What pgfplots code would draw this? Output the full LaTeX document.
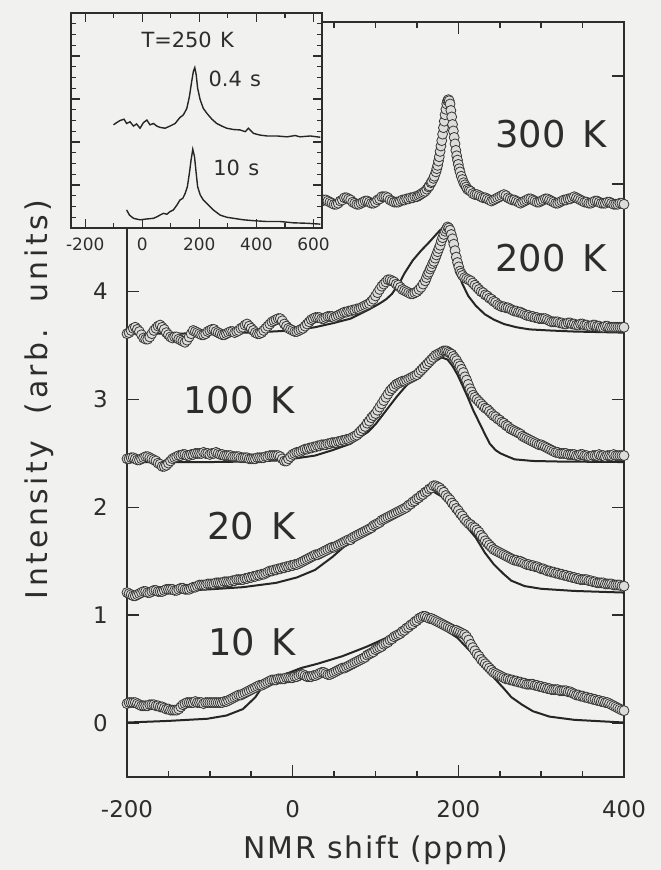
\documentclass[border=0pt]{standalone}
\usepackage{fontspec}
\setmainfont{DejaVu Sans}
\newfontfamily\titlefont{DejaVu Sans}[LetterSpace=6]
\newfontfamily\ylabfont{DejaVu Sans}[LetterSpace=12]
\usepackage{pgfplots}
\pgfplotsset{compat=1.18}
\definecolor{bg}{RGB}{241,241,239}
\definecolor{ink}{RGB}{45,45,45}
\definecolor{mk}{RGB}{220,220,216}
\definecolor{mkedge}{RGB}{55,55,55}

\pgfplotsset{
  data/.style={only marks, mark=*, mark size=5pt,
    mark options={fill=mk, draw=mkedge, line width=0.8bp}},
  fit/.style={no marks, line width=2bp, color=black!85},
}

\begin{document}
\begin{tikzpicture}
\fill[bg] (0,0) rectangle (661bp,870bp);
\useasboundingbox (0,0) rectangle (661bp,870bp);

% ---------------- main panel ----------------
\begin{axis}[
  at={(127bp,93bp)}, anchor=south west,
  scale only axis, width=497bp, height=755bp,
  xmin=-200, xmax=400, ymin=-0.5, ymax=6.5,
  xtick={-200,0,200,400}, xticklabels={-200,0,200,400},
  minor x tick num=3,
  ytick={0,1,2,3,4,5,6}, yticklabels={0,1,2,3,4,5,6},
  tick align=inside,
  major tick length=12bp, minor tick length=6bp,
  axis line style={ink, line width=2bp},
  every tick/.style={ink, line width=1.6bp},
  tick label style={font=\fontsize{23}{26}\selectfont, text=ink},
  xticklabel style={anchor=base, inner sep=0pt, yshift=-40bp},
  yticklabel style={anchor=east, inner sep=0pt, xshift=-19bp},
  xlabel={NMR shift (ppm)},
  ylabel={Intensity\ \ (arb.\ \ units)},
  every axis x label/.style={at={(axis description cs:0.5,0)}, anchor=base,
    yshift=-81bp, font=\titlefont\fontsize{30}{34}\selectfont, text=ink},
  every axis y label/.style={at={(axis description cs:0,0.5)}, xshift=-80bp,
    rotate=90, anchor=base, font=\ylabfont\fontsize{30}{34}\selectfont, text=ink},
]
% 300 K
\addplot[data] coordinates {
(-200,4.83)(-190,4.84)(-180,4.83)(-170,4.82)(-160,4.85)(-150,4.81)(-140,4.84)(-130,4.81)
(-120,4.84)(-110,4.83)(-100,4.83)(-90,4.82)(-80,4.84)(-70,4.83)(-60,4.82)(-50,4.84)
(-40,4.83)(-30,4.82)(-20,4.84)(-10,4.83)(0,4.82)(10,4.84)(20,4.83)(25,4.82)
(30,4.82)(32.5,4.83)(35,4.84)(37.5,4.85)(40,4.85)(42.5,4.84)(45,4.83)(47.5,4.82)
(50,4.81)(52.5,4.81)(55,4.82)(57.5,4.84)(60,4.85)(62.5,4.87)(65,4.87)(67.5,4.86)
(70,4.85)(72.5,4.83)(75,4.82)(77.5,4.81)(80,4.81)(82.5,4.82)(85,4.83)(87.5,4.84)
(90,4.84)(92.5,4.83)(95,4.82)(97.5,4.82)(100,4.83)(102.5,4.85)(105,4.86)(107.5,4.88)
(110,4.88)(112.5,4.88)(115,4.87)(117.5,4.85)(120,4.84)(122.5,4.83)(125,4.83)(127.5,4.83)
(130,4.84)(132.5,4.85)(135,4.85)(137.5,4.86)(140,4.86)(142.5,4.87)(145,4.87)(147.5,4.88)
(150,4.88)(152,4.89)(154,4.90)(156,4.91)(158,4.92)(160,4.93)(162,4.95)(164,4.97)
(165,4.98)(167,5.01)(168,5.02)(170,5.05)(171,5.07)(173,5.11)(174,5.14)(175,5.17)
(176,5.21)(177,5.25)(178,5.30)(179,5.35)(180,5.40)(181,5.46)(182,5.52)(183,5.58)
(184,5.64)(185,5.69)(186,5.74)(187,5.77)(188,5.78)(189,5.77)(190,5.74)(191,5.68)
(192,5.62)(193,5.55)(194,5.49)(195,5.43)(196,5.37)(197,5.31)(198,5.26)(199,5.22)
(200,5.18)(201,5.14)(202,5.11)(203.5,5.07)(205,5.04)(206.5,5.01)(208,4.99)(209.5,4.97)
(211,4.95)(213,4.94)(215,4.93)(217.5,4.91)(220,4.90)(222.5,4.90)(225,4.89)(227.5,4.88)
(230,4.87)(232.5,4.87)(235,4.86)(237.5,4.85)(240,4.84)(242.5,4.85)(245,4.86)(247.5,4.87)
(250,4.88)(252.5,4.89)(255,4.90)(257.5,4.89)(260,4.87)(262.5,4.86)(265,4.85)(267.5,4.85)
(270,4.84)(272.5,4.83)(275,4.82)(277.5,4.83)(280,4.84)(282.5,4.85)(285,4.86)(287.5,4.86)
(290,4.85)(292.5,4.84)(295,4.83)(297.5,4.83)(300,4.84)(302.5,4.85)(305,4.86)(307.5,4.86)
(310,4.85)(312.5,4.84)(315,4.83)(317.5,4.82)(320,4.82)(322.5,4.83)(325,4.84)(327.5,4.85)
(330,4.85)(332.5,4.86)(335,4.86)(337.5,4.87)(340,4.88)(342.5,4.87)(345,4.86)(347.5,4.85)
(350,4.84)(352.5,4.83)(355,4.83)(357.5,4.82)(360,4.82)(362.5,4.83)(365,4.84)(367.5,4.84)
(370,4.83)(372.5,4.82)(375,4.82)(377.5,4.82)(380,4.83)(382.5,4.83)(385,4.82)(387.5,4.81)
(390,4.81)(392.5,4.81)(395,4.82)(397.5,4.82)(400,4.81)};
% 200 K
\addplot[data] coordinates {
(-200,3.61)(-197.5,3.62)(-195,3.64)(-192.5,3.66)(-190,3.67)(-187.5,3.65)(-185,3.63)(-182.5,3.60)
(-180,3.57)(-177.5,3.56)(-175,3.56)(-172.5,3.58)(-170,3.61)(-167.5,3.64)(-165,3.66)(-162.5,3.68)
(-160,3.69)(-157.5,3.67)(-155,3.65)(-152.5,3.62)(-150,3.60)(-147.5,3.58)(-145,3.57)(-142.5,3.58)
(-140,3.58)(-137.5,3.56)(-135,3.55)(-132.5,3.54)(-130,3.53)(-127.5,3.55)(-125,3.58)(-122.5,3.61)
(-120,3.64)(-117.5,3.63)(-115,3.62)(-112.5,3.61)(-110,3.60)(-107.5,3.60)(-105,3.61)(-102.5,3.63)
(-100,3.64)(-97.5,3.65)(-95,3.65)(-92.5,3.63)(-90,3.62)(-87.5,3.61)(-85,3.60)(-82.5,3.60)
(-80,3.61)(-77.5,3.62)(-75,3.63)(-72.5,3.63)(-70,3.62)(-67.5,3.63)(-65,3.64)(-62.5,3.66)
(-60,3.67)(-57.5,3.69)(-55,3.70)(-52.5,3.68)(-50,3.66)(-47.5,3.64)(-45,3.62)(-42.5,3.61)
(-40,3.61)(-37.5,3.62)(-35,3.64)(-32.5,3.66)(-30,3.68)(-27.5,3.70)(-25,3.72)(-22.5,3.73)
(-20,3.74)(-17.5,3.75)(-15,3.75)(-12.5,3.73)(-10,3.70)(-7.5,3.68)(-5,3.66)(-2.5,3.65)
(0,3.64)(2.5,3.63)(5,3.63)(7.5,3.64)(10,3.65)(12.5,3.66)(15,3.68)(17.5,3.70)
(20,3.72)(22.5,3.74)(25,3.75)(27.5,3.76)(30,3.76)(32.5,3.76)(35,3.75)(37.5,3.75)
(40,3.76)(42.5,3.77)(45,3.77)(47.5,3.77)(50,3.76)(52.5,3.77)(55,3.78)(57.5,3.79)
(60,3.80)(62.5,3.81)(65,3.81)(67.5,3.82)(70,3.82)(72.5,3.83)(75,3.83)(77.5,3.84)
(80,3.84)(82.5,3.85)(85,3.86)(87.5,3.87)(90,3.88)(92.5,3.89)(95,3.91)(97.5,3.93)
(100,3.96)(102.5,3.99)(105,4.02)(107.5,4.05)(110,4.07)(112.5,4.09)(115,4.11)(117.5,4.11)
(120,4.10)(122.5,4.09)(125,4.07)(127.5,4.06)(130,4.04)(132.5,4.02)(135,4.01)(137.5,4.00)
(140,3.99)(142.5,3.98)(145,3.98)(147.5,3.99)(150,4.00)(152.5,4.02)(155,4.04)(157.5,4.07)
(160,4.10)(161.5,4.13)(163,4.16)(164.5,4.18)(166,4.21)(167.5,4.23)(169,4.26)(170.5,4.28)
(172,4.31)(173.5,4.34)(175,4.37)(176.5,4.40)(178,4.43)(179.5,4.47)(181,4.50)(182.5,4.53)
(184,4.56)(185.5,4.58)(187,4.60)(188.5,4.59)(190,4.57)(191.5,4.53)(193,4.49)(194.5,4.44)
(196,4.38)(197.5,4.32)(199,4.27)(200.5,4.23)(202,4.19)(203.5,4.17)(205,4.15)(207.5,4.13)
(210,4.12)(212.5,4.11)(215,4.10)(217.5,4.08)(220,4.06)(222.5,4.04)(225,4.02)(227.5,4.00)
(230,3.99)(232.5,3.97)(235,3.96)(237.5,3.94)(240,3.93)(242.5,3.91)(245,3.90)(247.5,3.88)
(250,3.87)(252.5,3.86)(255,3.86)(257.5,3.85)(260,3.85)(262.5,3.84)(265,3.83)(267.5,3.82)
(270,3.82)(272.5,3.81)(275,3.81)(277.5,3.80)(280,3.79)(282.5,3.78)(285,3.78)(287.5,3.77)
(290,3.77)(292.5,3.76)(295,3.76)(297.5,3.75)(300,3.75)(302.5,3.75)(305,3.75)(307.5,3.74)
(310,3.73)(312.5,3.72)(315,3.72)(317.5,3.72)(320,3.72)(322.5,3.71)(325,3.71)(327.5,3.70)
(330,3.70)(332.5,3.71)(335,3.71)(337.5,3.70)(340,3.70)(342.5,3.69)(345,3.69)(347.5,3.70)
(350,3.70)(352.5,3.69)(355,3.69)(357.5,3.68)(360,3.68)(362.5,3.69)(365,3.69)(367.5,3.68)
(370,3.68)(372.5,3.67)(375,3.67)(377.5,3.68)(380,3.68)(382.5,3.67)(385,3.67)(387.5,3.67)
(390,3.67)(392.5,3.67)(395,3.67)(397.5,3.67)(400,3.67)};
\addplot[fit] coordinates {
(-200,3.61)(-150,3.61)(-100,3.615)(-50,3.62)(0,3.64)(27,3.67)(50,3.71)(70,3.75)
(91,3.83)(105,3.89)(113,3.93)(120,3.98)(126,4.05)(131,4.11)(135,4.17)(140,4.23)
(145,4.29)(155,4.38)(165,4.46)(172,4.52)(178,4.57)(182,4.59)(186,4.55)(190,4.45)
(195,4.31)(199,4.19)(205,4.07)(212,3.96)(221,3.87)(232,3.79)(243,3.74)(255,3.70)
(270,3.67)(286,3.65)(310,3.64)(340,3.63)(370,3.625)(400,3.62)};
% 100 K
\addplot[data] coordinates {
(-200,2.45)(-197.5,2.45)(-195,2.46)(-192.5,2.46)(-190,2.45)(-187.5,2.44)(-185,2.44)(-182.5,2.45)
(-180,2.46)(-177.5,2.47)(-175,2.47)(-172.5,2.46)(-170,2.45)(-167.5,2.44)(-165,2.43)(-162.5,2.41)
(-160,2.40)(-157.5,2.38)(-155,2.38)(-152.5,2.39)(-150,2.41)(-147.5,2.43)(-145,2.45)(-142.5,2.46)
(-140,2.47)(-137.5,2.48)(-135,2.48)(-132.5,2.49)(-130,2.49)(-127.5,2.48)(-125,2.48)(-122.5,2.49)
(-120,2.49)(-117.5,2.50)(-115,2.50)(-112.5,2.50)(-110,2.50)(-107.5,2.51)(-105,2.50)(-102.5,2.50)
(-100,2.49)(-97.5,2.50)(-95,2.50)(-92.5,2.51)(-90,2.50)(-87.5,2.49)(-85,2.49)(-82.5,2.48)
(-80,2.48)(-77.5,2.48)(-75,2.48)(-72.5,2.47)(-70,2.47)(-67.5,2.47)(-65,2.47)(-62.5,2.46)
(-60,2.46)(-57.5,2.46)(-55,2.46)(-52.5,2.45)(-50,2.45)(-47.5,2.45)(-45,2.45)(-42.5,2.46)
(-40,2.46)(-37.5,2.46)(-35,2.46)(-32.5,2.47)(-30,2.47)(-27.5,2.48)(-25,2.48)(-22.5,2.48)
(-20,2.48)(-17.5,2.48)(-15,2.47)(-12.5,2.45)(-10,2.43)(-7.5,2.43)(-5,2.45)(-2.5,2.47)
(0,2.49)(2.5,2.50)(5,2.51)(7.5,2.51)(10,2.52)(12.5,2.53)(15,2.54)(17.5,2.54)
(20,2.55)(22.5,2.55)(25,2.56)(27.5,2.56)(30,2.57)(32.5,2.57)(35,2.58)(37.5,2.58)
(40,2.58)(42.5,2.59)(45,2.59)(47.5,2.60)(50,2.60)(52.5,2.60)(55,2.61)(57.5,2.61)
(60,2.62)(62.5,2.62)(65,2.63)(67.5,2.63)(70,2.64)(72.5,2.65)(75,2.66)(77.5,2.67)
(80,2.69)(82.5,2.71)(85,2.73)(87.5,2.75)(90,2.78)(92.5,2.80)(95,2.83)(97.5,2.85)
(100,2.87)(102.5,2.90)(105,2.93)(107.5,2.96)(110,2.99)(112.5,3.02)(115,3.05)(117.5,3.08)
(120,3.10)(122.5,3.12)(125,3.14)(127.5,3.15)(130,3.16)(132.5,3.17)(135,3.17)(137.5,3.18)
(140,3.19)(142.5,3.20)(145,3.21)(147.5,3.22)(150,3.23)(152.5,3.25)(155,3.27)(157.5,3.29)
(160,3.31)(162.5,3.33)(165,3.35)(167.5,3.37)(170,3.39)(172.5,3.41)(175,3.42)(177.5,3.43)
(180,3.44)(182,3.45)(184,3.45)(186,3.45)(188,3.44)(190,3.43)(192,3.42)(194,3.40)
(196,3.38)(198,3.36)(200,3.33)(202,3.31)(204,3.28)(206,3.25)(208,3.21)(210,3.18)
(212,3.14)(214,3.10)(216,3.07)(218,3.04)(220,3.02)(222.5,3.00)(225,2.98)(227.5,2.96)
(230,2.94)(232.5,2.92)(235,2.91)(237.5,2.89)(240,2.87)(242.5,2.85)(245,2.84)(247.5,2.82)
(250,2.81)(252.5,2.79)(255,2.78)(257.5,2.76)(260,2.75)(262.5,2.73)(265,2.72)(267.5,2.71)
(270,2.70)(272.5,2.69)(275,2.68)(277.5,2.66)(280,2.65)(282.5,2.64)(285,2.63)(287.5,2.62)
(290,2.61)(292.5,2.60)(295,2.59)(297.5,2.58)(300,2.58)(302.5,2.57)(305,2.56)(307.5,2.55)
(310,2.54)(312.5,2.53)(315,2.52)(317.5,2.51)(320,2.51)(322.5,2.50)(325,2.50)(327.5,2.50)
(330,2.50)(332.5,2.49)(335,2.49)(337.5,2.49)(340,2.49)(342.5,2.48)(345,2.48)(347.5,2.49)
(350,2.49)(352.5,2.48)(355,2.48)(357.5,2.47)(360,2.47)(362.5,2.48)(365,2.48)(367.5,2.48)
(370,2.49)(372.5,2.48)(375,2.48)(377.5,2.47)(380,2.48)(382.5,2.48)(385,2.48)(387.5,2.49)
(390,2.48)(392.5,2.48)(395,2.48)(397.5,2.48)(400,2.48)};
\addplot[fit] coordinates {
(-200,2.42)(-100,2.42)(-50,2.425)(-17,2.435)(0,2.45)(27,2.48)(48,2.53)(70,2.59)
(91,2.70)(100,2.77)(113,2.90)(125,3.02)(135,3.11)(145,3.19)(156,3.26)(169,3.34)
(180,3.39)(187,3.37)(193,3.31)(199,3.23)(205,3.13)(212,3.01)(218,2.90)(225,2.79)
(232,2.68)(238,2.59)(245,2.53)(251,2.50)(260,2.47)(268,2.445)(290,2.43)(320,2.425)
(400,2.42)};
% 20 K
\addplot[data] coordinates {
(-200,1.21)(-197.5,1.20)(-195,1.19)(-192.5,1.18)(-190,1.18)(-187.5,1.19)(-185,1.20)(-182.5,1.21)
(-180,1.22)(-177.5,1.22)(-175,1.21)(-172.5,1.21)(-170,1.22)(-167.5,1.23)(-165,1.23)(-162.5,1.22)
(-160,1.22)(-157.5,1.22)(-155,1.23)(-152.5,1.24)(-150,1.24)(-147.5,1.24)(-145,1.24)(-142.5,1.23)
(-140,1.23)(-137.5,1.24)(-135,1.25)(-132.5,1.25)(-130,1.24)(-127.5,1.24)(-125,1.24)(-122.5,1.25)
(-120,1.26)(-117.5,1.26)(-115,1.27)(-112.5,1.28)(-110,1.28)(-107.5,1.28)(-105,1.28)(-102.5,1.29)
(-100,1.29)(-97.5,1.29)(-95,1.29)(-92.5,1.30)(-90,1.30)(-87.5,1.30)(-85,1.30)(-82.5,1.31)
(-80,1.31)(-77.5,1.31)(-75,1.31)(-72.5,1.32)(-70,1.32)(-67.5,1.33)(-65,1.33)(-62.5,1.33)
(-60,1.33)(-57.5,1.34)(-55,1.34)(-52.5,1.35)(-50,1.35)(-47.5,1.36)(-45,1.36)(-42.5,1.37)
(-40,1.37)(-37.5,1.38)(-35,1.38)(-32.5,1.39)(-30,1.40)(-27.5,1.41)(-25,1.41)(-22.5,1.42)
(-20,1.42)(-17.5,1.43)(-15,1.43)(-12.5,1.44)(-10,1.44)(-7.5,1.45)(-5,1.45)(-2.5,1.46)
(0,1.46)(2.5,1.47)(5,1.47)(7.5,1.48)(10,1.49)(12.5,1.50)(15,1.51)(17.5,1.52)
(20,1.53)(22.5,1.54)(25,1.55)(27.5,1.56)(30,1.56)(32.5,1.57)(35,1.58)(37.5,1.59)
(40,1.60)(42.5,1.61)(45,1.62)(47.5,1.63)(50,1.63)(52.5,1.64)(55,1.65)(57.5,1.66)
(60,1.67)(62.5,1.68)(65,1.69)(67.5,1.70)(70,1.70)(72.5,1.72)(75,1.73)(77.5,1.74)
(80,1.75)(82.5,1.76)(85,1.77)(87.5,1.78)(90,1.79)(92.5,1.80)(95,1.81)(97.5,1.83)
(100,1.84)(102.5,1.85)(105,1.86)(107.5,1.88)(110,1.89)(112.5,1.90)(115,1.91)(117.5,1.92)
(120,1.93)(122.5,1.94)(125,1.95)(127.5,1.96)(130,1.97)(132.5,1.98)(135,1.99)(137.5,2.00)
(140,2.02)(142.5,2.03)(145,2.05)(147.5,2.06)(150,2.08)(152.5,2.09)(155,2.11)(157.5,2.12)
(160,2.14)(162.5,2.15)(165,2.17)(167.5,2.18)(170,2.20)(172.5,2.20)(175,2.19)(177.5,2.18)
(180,2.16)(182.5,2.14)(185,2.11)(187.5,2.09)(190,2.07)(192.5,2.04)(195,2.02)(197.5,1.99)
(200,1.97)(202.5,1.94)(205,1.92)(207.5,1.89)(210,1.87)(212.5,1.85)(215,1.84)(217.5,1.82)
(220,1.81)(222.5,1.79)(225,1.77)(227.5,1.74)(230,1.72)(232.5,1.69)(235,1.67)(237.5,1.65)
(240,1.63)(242.5,1.61)(245,1.60)(247.5,1.59)(250,1.58)(252.5,1.57)(255,1.56)(257.5,1.55)
(260,1.54)(262.5,1.53)(265,1.52)(267.5,1.51)(270,1.51)(272.5,1.50)(275,1.50)(277.5,1.49)
(280,1.48)(282.5,1.47)(285,1.47)(287.5,1.46)(290,1.46)(292.5,1.45)(295,1.45)(297.5,1.44)
(300,1.43)(302.5,1.43)(305,1.42)(307.5,1.41)(310,1.41)(312.5,1.40)(315,1.40)(317.5,1.39)
(320,1.39)(322.5,1.38)(325,1.38)(327.5,1.37)(330,1.37)(332.5,1.36)(335,1.36)(337.5,1.35)
(340,1.35)(342.5,1.34)(345,1.34)(347.5,1.33)(350,1.33)(352.5,1.33)(355,1.33)(357.5,1.32)
(360,1.32)(362.5,1.31)(365,1.31)(367.5,1.30)(370,1.30)(372.5,1.30)(375,1.30)(377.5,1.29)
(380,1.29)(382.5,1.29)(385,1.29)(387.5,1.28)(390,1.28)(392.5,1.28)(395,1.28)(397.5,1.27)
(400,1.27)};
\addplot[fit] coordinates {
(-200,1.21)(-150,1.22)(-100,1.24)(-60,1.26)(-20,1.30)(5,1.35)(27,1.42)(48,1.54)
(70,1.69)(91,1.80)(113,1.88)(135,1.98)(150,2.06)(169,2.15)(180,2.10)(190,2.02)
(199,1.92)(210,1.82)(221,1.72)(232,1.58)(243,1.47)(255,1.38)(264,1.32)(280,1.27)
(300,1.245)(340,1.225)(400,1.21)};
% 10 K
\addplot[data] coordinates {
(-200,0.18)(-197.5,0.19)(-195,0.19)(-192.5,0.19)(-190,0.19)(-187.5,0.18)(-185,0.17)(-182.5,0.16)
(-180,0.16)(-177.5,0.16)(-175,0.16)(-172.5,0.17)(-170,0.17)(-167.5,0.17)(-165,0.16)(-162.5,0.16)
(-160,0.15)(-157.5,0.15)(-155,0.14)(-152.5,0.13)(-150,0.13)(-147.5,0.12)(-145,0.12)(-142.5,0.12)
(-140,0.12)(-137.5,0.13)(-135,0.15)(-132.5,0.17)(-130,0.18)(-127.5,0.19)(-125,0.19)(-122.5,0.19)
(-120,0.19)(-117.5,0.20)(-115,0.19)(-112.5,0.19)(-110,0.19)(-107.5,0.18)(-105,0.19)(-102.5,0.19)
(-100,0.19)(-97.5,0.19)(-95,0.19)(-92.5,0.19)(-90,0.19)(-87.5,0.19)(-85,0.19)(-82.5,0.20)
(-80,0.20)(-77.5,0.21)(-75,0.22)(-72.5,0.23)(-70,0.24)(-67.5,0.25)(-65,0.26)(-62.5,0.26)
(-60,0.27)(-57.5,0.28)(-55,0.29)(-52.5,0.30)(-50,0.31)(-47.5,0.32)(-45,0.33)(-42.5,0.34)
(-40,0.35)(-37.5,0.35)(-35,0.36)(-32.5,0.37)(-30,0.38)(-27.5,0.39)(-25,0.40)(-22.5,0.40)
(-20,0.40)(-17.5,0.41)(-15,0.41)(-12.5,0.41)(-10,0.41)(-7.5,0.42)(-5,0.42)(-2.5,0.42)
(0,0.42)(2.5,0.43)(5,0.43)(7.5,0.44)(10,0.45)(12.5,0.45)(15,0.44)(17.5,0.43)
(20,0.43)(22.5,0.43)(25,0.44)(27.5,0.44)(30,0.45)(32.5,0.46)(35,0.47)(37.5,0.47)
(40,0.46)(42.5,0.45)(45,0.45)(47.5,0.46)(50,0.47)(52.5,0.48)(55,0.49)(57.5,0.50)
(60,0.51)(62.5,0.51)(65,0.52)(67.5,0.53)(70,0.54)(72.5,0.55)(75,0.56)(77.5,0.57)
(80,0.58)(82.5,0.59)(85,0.60)(87.5,0.61)(90,0.63)(92.5,0.64)(95,0.65)(97.5,0.66)
(100,0.68)(102.5,0.69)(105,0.70)(107.5,0.71)(110,0.73)(112.5,0.74)(115,0.75)(117.5,0.77)
(120,0.78)(122.5,0.80)(125,0.81)(127.5,0.82)(130,0.83)(132.5,0.85)(135,0.86)(137.5,0.88)
(140,0.89)(142.5,0.91)(145,0.92)(147.5,0.94)(150,0.95)(152.5,0.97)(155,0.98)(157.5,0.99)
(160,0.99)(162.5,0.98)(165,0.97)(167.5,0.97)(170,0.96)(172.5,0.95)(175,0.94)(177.5,0.93)
(180,0.92)(182.5,0.91)(185,0.90)(187.5,0.89)(190,0.88)(192.5,0.87)(195,0.86)(197.5,0.86)
(200,0.85)(202.5,0.84)(205,0.83)(207.5,0.82)(210,0.80)(212.5,0.77)(215,0.73)(217.5,0.70)
(220,0.67)(222.5,0.64)(225,0.62)(227.5,0.59)(230,0.57)(232.5,0.55)(235,0.53)(237.5,0.51)
(240,0.49)(242.5,0.47)(245,0.46)(247.5,0.45)(250,0.44)(252.5,0.43)(255,0.42)(257.5,0.41)
(260,0.41)(262.5,0.40)(265,0.40)(267.5,0.39)(270,0.39)(272.5,0.38)(275,0.38)(277.5,0.37)
(280,0.37)(282.5,0.36)(285,0.36)(287.5,0.36)(290,0.36)(292.5,0.35)(295,0.35)(297.5,0.34)
(300,0.34)(302.5,0.33)(305,0.33)(307.5,0.32)(310,0.32)(312.5,0.31)(315,0.31)(317.5,0.31)
(320,0.31)(322.5,0.30)(325,0.30)(327.5,0.30)(330,0.30)(332.5,0.29)(335,0.29)(337.5,0.28)
(340,0.27)(342.5,0.26)(345,0.26)(347.5,0.25)(350,0.25)(352.5,0.24)(355,0.24)(357.5,0.23)
(360,0.23)(362.5,0.22)(365,0.22)(367.5,0.21)(370,0.21)(372.5,0.20)(375,0.20)(377.5,0.19)
(380,0.19)(382.5,0.18)(385,0.17)(387.5,0.16)(390,0.15)(392.5,0.14)(395,0.13)(397.5,0.12)
(400,0.115)};
\addplot[fit] coordinates {
(-200,0.005)(-150,0.02)(-103,0.04)(-80,0.07)(-60,0.13)(-45,0.24)(-38,0.32)(-25,0.39)
(-10,0.45)(10,0.51)(30,0.55)(60,0.62)(90,0.71)(113,0.79)(135,0.87)(158,0.975)
(175,0.91)(199,0.79)(220,0.62)(243,0.42)(255,0.32)(264,0.24)(277,0.17)(290,0.11)
(310,0.06)(340,0.03)(400,0.005)};

\node[anchor=base east, text=ink, font=\fontsize{37}{40}\selectfont] at (axis cs:383,5.335) {300\hspace{0.45em}K};
\node[anchor=base east, text=ink, font=\fontsize{37}{40}\selectfont] at (axis cs:383,4.19) {200\hspace{0.45em}K};
\node[anchor=base west, text=ink, font=\fontsize{37}{40}\selectfont] at (axis cs:-136,2.873) {100\hspace{0.45em}K};
\node[anchor=base west, text=ink, font=\fontsize{37}{40}\selectfont] at (axis cs:-107,1.704) {20\hspace{0.45em}K};
\node[anchor=base west, text=ink, font=\fontsize{37}{40}\selectfont] at (axis cs:-106,0.628) {10\hspace{0.45em}K};
\end{axis}

% ---------------- inset ----------------
\begin{axis}[
  at={(71bp,642bp)}, anchor=south west,
  scale only axis, width=251bp, height=215bp,
  xmin=-250, xmax=630, ymin=0, ymax=5,
  axis background/.style={fill=bg},
  xtick={-200,0,200,400,600}, xticklabels={-200,0,200,400,600},
  minor x tick num=1,
  ytick={0,1,2,3,4,5}, yticklabels={},
  minor y tick num=3,
  tick align=inside,
  major tick length=9bp, minor tick length=5bp,
  axis line style={ink, line width=1.6bp},
  every tick/.style={ink, line width=1.2bp},
  tick label style={font=\fontsize{17}{20}\selectfont, text=ink},
  xticklabel style={anchor=base, inner sep=0pt, yshift=-23bp},
]
\addplot[no marks, line width=1.4bp, color=black!85] coordinates {
(-101,2.40)(-90,2.45)(-78,2.50)(-64,2.53)(-55,2.43)(-43,2.47)(-31,2.37)(-20,2.42)
(-8,2.32)(4,2.45)(16,2.51)(27,2.40)(39,2.43)(51,2.37)(62,2.34)(80,2.32)(97,2.37)
(115,2.43)(132,2.57)(144,2.63)(156,2.78)(165,3.05)(173,3.40)(179,3.64)(184,3.73)
(189,3.56)(194,3.25)(203,2.98)(214,2.78)(226,2.67)(244,2.53)(261,2.43)(279,2.37)
(296,2.32)(320,2.29)(343,2.28)(361,2.24)(372,2.32)(390,2.20)(413,2.16)(437,2.14)
(472,2.14)(507,2.12)(536,2.15)(553,2.12)(589,2.14)(624,2.11)};
\addplot[no marks, line width=1.4bp, color=black!85] coordinates {
(-55,0.42)(-45,0.30)(-31,0.225)(-8,0.19)(16,0.21)(39,0.225)(51,0.26)(62,0.30)
(74,0.34)(86,0.32)(97,0.38)(109,0.42)(121,0.53)(132,0.65)(142,0.69)(150,0.80)
(158,0.96)(165,1.27)(171,1.58)(177,1.83)(183,1.66)(189,1.27)(194,0.96)(203,0.77)
(214,0.65)(232,0.53)(249,0.42)(273,0.30)(296,0.25)(320,0.225)(355,0.19)(390,0.17)
(437,0.15)(484,0.15)(530,0.12)(577,0.11)(624,0.09)};
\node[anchor=base west, text=ink, font=\fontsize{21}{24}\selectfont] at (axis cs:-15,4.19) {T=250\hspace{0.4em}K};
\node[anchor=base west, text=ink, font=\fontsize{21}{24}\selectfont] at (axis cs:220,3.28) {0.4\hspace{0.4em}s};
\node[anchor=base west, text=ink, font=\fontsize{21}{24}\selectfont] at (axis cs:237,1.21) {10\hspace{0.4em}s};
\end{axis}
\end{tikzpicture}
\end{document}
